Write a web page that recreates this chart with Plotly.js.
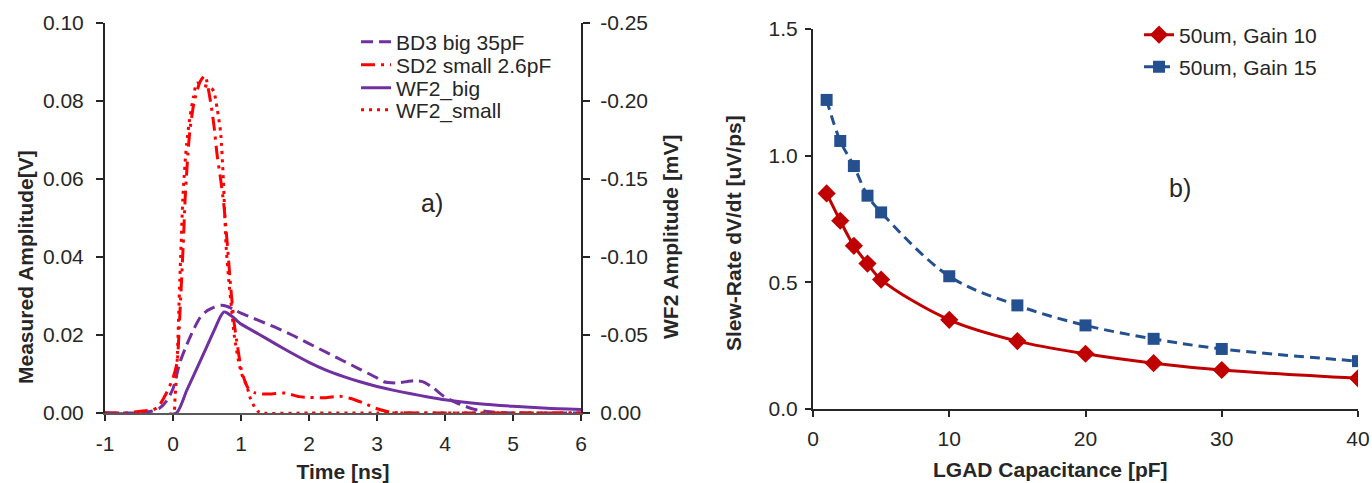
<!DOCTYPE html>
<html>
<head>
<meta charset="utf-8">
<script src="https://cdn.plot.ly/plotly-3.0.1.min.js"></script>
<style>
  html, body { margin: 0; padding: 0; background: #ffffff; }
  #chart { width: 1372px; height: 483px; }
</style>
</head>
<body>
<div id="chart"></div>
<script>
// ---------- Panel a) : pulse shapes ----------
// Measured (left axis, V)
const t_BD3 = [-1, -0.6, -0.4, -0.3, -0.2, -0.1, 0, 0.1, 0.2, 0.3, 0.4, 0.5, 0.6, 0.7, 0.8, 0.9, 1.0, 1.25, 1.5, 1.75, 2.0, 2.25, 2.5, 2.75, 3.0, 3.1, 3.3, 3.45, 3.55, 3.68, 3.83, 3.98, 4.17, 4.42, 4.66, 5.0, 5.5, 6.0];
const v_BD3 = [0, 0, 0.0002, 0.0005, 0.0012, 0.003, 0.0062, 0.0129, 0.0174, 0.0213, 0.0245, 0.0262, 0.0271, 0.0276, 0.0273, 0.0265, 0.0256, 0.0238, 0.0220, 0.0200, 0.0178, 0.0156, 0.0134, 0.0112, 0.0090, 0.0080, 0.0077, 0.0081, 0.0083, 0.0080, 0.0064, 0.0043, 0.0026, 0.0010, 0.0003, 0, 0, 0];

const t_SD2 = [-1, -0.7, -0.5, -0.4, -0.3, -0.22, -0.1, 0, 0.06, 0.1, 0.15, 0.18, 0.22, 0.25, 0.31, 0.4, 0.47, 0.55, 0.6, 0.65, 0.7, 0.75, 0.8, 0.85, 0.9, 0.95, 1.0, 1.05, 1.1, 1.2, 1.3, 1.45, 1.65, 1.85, 2.0, 2.24, 2.45, 2.6, 2.8, 3.0, 3.2, 4.0, 5.0, 6.0];
const v_SD2 = [0, 0, 0.0004, 0.0006, 0.0008, 0.0015, 0.005, 0.009, 0.013, 0.025, 0.043, 0.0554, 0.0667, 0.0726, 0.0797, 0.085, 0.0865, 0.080, 0.074, 0.066, 0.060, 0.053, 0.043, 0.032, 0.023, 0.017, 0.0115, 0.0085, 0.0065, 0.0052, 0.0049, 0.0049, 0.0051, 0.0042, 0.0040, 0.0039, 0.0043, 0.0038, 0.0026, 0.0011, 0.0002, 0, 0, 0];

// Simulated WF2 (right axis, mV)
const t_WF2big = [-1, 0.05, 0.2, 0.4, 0.6, 0.7, 0.75, 0.8, 0.9, 1.0, 1.25, 1.5, 1.75, 2.0, 2.25, 2.5, 2.75, 3.0, 3.25, 3.5, 3.75, 4.0, 4.5, 5.0, 5.5, 6.0];
const v_WF2big = [0, 0, -0.0143, -0.0333, -0.0525, -0.062, -0.0648, -0.064, -0.0608, -0.057, -0.0508, -0.0445, -0.0383, -0.0325, -0.0275, -0.0235, -0.020, -0.017, -0.0145, -0.0123, -0.0103, -0.0085, -0.006, -0.0043, -0.003, -0.0023];

const t_WF2small = [-1, 0, 0.03, 0.06, 0.1, 0.15, 0.2, 0.25, 0.3, 0.35, 0.45, 0.55, 0.6, 0.65, 0.7, 0.74, 0.78, 0.82, 0.86, 0.9, 0.96, 1.01, 1.09, 1.13, 1.2, 1.25, 1.3, 2, 3, 4, 5, 6];
const v_WF2small = [0, 0, -0.010, -0.0325, -0.085, -0.1425, -0.1725, -0.19, -0.2025, -0.2115, -0.21, -0.2088, -0.2063, -0.195, -0.18, -0.15, -0.1075, -0.085, -0.0675, -0.05, -0.034, -0.025, -0.0168, -0.0103, -0.0038, -0.001, 0, 0, 0, 0, 0, 0];

const timeTickVals = [-1, 0, 1, 2, 3, 4, 5, 6];
const timeTickText = ['-1', '0', '1', '2', '3', '4', '5', '6'];
const wf2TickVals = [0, -0.05, -0.10, -0.15, -0.20, -0.25];
const wf2TickText = ['0.00', '-0.05', '-0.10', '-0.15', '-0.20', '-0.25'];

// ---------- Panel b) : slew rate ----------
const capacitance = [1, 2, 3, 4, 5, 10, 15, 20, 25, 30, 40];
const slewGain10 = [0.851, 0.743, 0.644, 0.574, 0.511, 0.352, 0.268, 0.218, 0.181, 0.154, 0.121];
const slewGain15 = [1.220, 1.058, 0.959, 0.842, 0.776, 0.524, 0.409, 0.330, 0.277, 0.237, 0.189];

const FONT = '"Liberation Sans", Arial, Helvetica, sans-serif';
const TXT = '#262626';
const PURPLE = '#7030a0';
const RED = '#ff0000';
const DRED = '#c00000';
const BLUE = '#24508f';

const traces = [
  { x: t_BD3, y: v_BD3, xaxis: 'x', yaxis: 'y', type: 'scatter', mode: 'lines',
    name: 'BD3 big 35pF', legend: 'legend',
    line: { color: PURPLE, width: 3, dash: '12px,6px', shape: 'spline', smoothing: 0.6 } },
  { x: t_SD2, y: v_SD2, xaxis: 'x', yaxis: 'y', type: 'scatter', mode: 'lines',
    name: 'SD2 small 2.6pF', legend: 'legend3',
    line: { color: RED, width: 3, dash: '14px,6px,3px,6px', shape: 'spline', smoothing: 0.6 } },
  { x: t_WF2big, y: v_WF2big, xaxis: 'x', yaxis: 'y2', type: 'scatter', mode: 'lines',
    name: 'WF2_big', legend: 'legend4',
    line: { color: PURPLE, width: 3, shape: 'spline', smoothing: 0.5 } },
  { x: t_WF2small, y: v_WF2small, xaxis: 'x', yaxis: 'y2', type: 'scatter', mode: 'lines',
    name: 'WF2_small', legend: 'legend5',
    line: { color: RED, width: 3, dash: '3px,5px', shape: 'spline', smoothing: 0.6 } },
  { x: capacitance, y: slewGain10, xaxis: 'x2', yaxis: 'y3', type: 'scatter', mode: 'lines+markers',
    name: '50um, Gain 10', legend: 'legend2',
    line: { color: DRED, width: 3, shape: 'spline', smoothing: 1 },
    marker: { symbol: 'diamond', size: 14, color: DRED } },
  { x: capacitance, y: slewGain15, xaxis: 'x2', yaxis: 'y3', type: 'scatter', mode: 'lines+markers',
    name: '50um, Gain 15', legend: 'legend6',
    line: { color: BLUE, width: 3, dash: '10px,6px', shape: 'spline', smoothing: 1 },
    marker: { symbol: 'square', size: 12, color: BLUE } }
];

const tickFont = { family: FONT, size: 21, color: TXT };
const titleFont = { family: FONT, size: 21, color: TXT, weight: 'bold' };

function leg(xp, yp, size) {
  return {
    x: xp, y: yp, xanchor: 'left', yanchor: 'middle',
    bgcolor: 'rgba(0,0,0,0)', borderwidth: 0, itemwidth: 30,
    font: { family: FONT, size: size, color: TXT }
  };
}

const layout = {
  width: 1372, height: 483,
  margin: { l: 0, r: 0, t: 0, b: 0 },
  paper_bgcolor: '#ffffff', plot_bgcolor: 'rgba(0,0,0,0)',
  font: { family: FONT, color: TXT },
  xaxis: {
    domain: [0.07653, 0.42347], anchor: 'y',
    range: [-1, 6], tickmode: 'array', tickvals: timeTickVals, ticktext: timeTickText,
    showgrid: false, zeroline: false, showline: true, linecolor: '#595959', linewidth: 2,
    ticks: 'outside', ticklen: 6, tickwidth: 2, tickcolor: '#262626',
    tickfont: tickFont, ticklabelstandoff: 5,
    title: { text: 'Time [ns]', font: titleFont, standoff: 12 }
  },
  yaxis: {
    domain: [0.14493, 0.95238], anchor: 'x',
    range: [0, 0.10], dtick: 0.02, tickformat: '.2f',
    showgrid: false, zeroline: false, showline: true, linecolor: '#262626', linewidth: 2,
    ticks: 'outside', ticklen: 7, tickwidth: 2, tickcolor: '#262626',
    tickfont: tickFont, ticklabelstandoff: 8
  },
  yaxis2: {
    overlaying: 'y', side: 'right', anchor: 'x',
    range: [0, -0.25], tickmode: 'array', tickvals: wf2TickVals, ticktext: wf2TickText,
    showgrid: false, zeroline: false, showline: true, linecolor: '#262626', linewidth: 2,
    ticks: 'outside', ticklen: 7, tickwidth: 2, tickcolor: '#262626',
    tickfont: tickFont, ticklabelstandoff: 6
  },
  xaxis2: {
    domain: [0.59257, 0.98980], anchor: 'y3',
    range: [0, 40], dtick: 10,
    showgrid: false, zeroline: false, showline: true, linecolor: '#262626', linewidth: 2,
    ticks: 'outside', ticklen: 6, tickwidth: 2, tickcolor: '#262626',
    tickfont: tickFont, ticklabelstandoff: 4
  },
  yaxis3: {
    domain: [0.15321, 0.93996], anchor: 'x2',
    range: [0, 1.5], dtick: 0.5, tickformat: '.1f',
    showgrid: false, zeroline: false, showline: true, linecolor: '#262626', linewidth: 2,
    ticks: 'outside', ticklen: 6, tickwidth: 2, tickcolor: '#262626',
    tickfont: tickFont, ticklabelstandoff: 3
  },
  showlegend: true,
  legend:  leg(0.2595, 0.9130, 21),
  legend3: leg(0.2595, 0.8654, 21),
  legend4: leg(0.2595, 0.8178, 21),
  legend5: leg(0.2595, 0.7723, 21),
  legend2: leg(0.8302, 0.9275, 21),
  legend6: leg(0.8302, 0.8613, 21),
  annotations: [
    { text: 'Measured Amplitude[V]', xref: 'paper', yref: 'paper', x: 0.01822, y: 0.4472,
      textangle: -90, showarrow: false, xanchor: 'center', yanchor: 'middle', font: titleFont },
    { text: 'WF2 Amplitude [mV]', xref: 'paper', yref: 'paper', x: 0.48907, y: 0.50932,
      textangle: -90, showarrow: false, xanchor: 'center', yanchor: 'middle', font: titleFont },
    { text: 'Slew-Rate dV/dt [uV/ps]', xref: 'paper', yref: 'paper', x: 0.53499, y: 0.5176,
      textangle: -90, showarrow: false, xanchor: 'center', yanchor: 'middle', font: titleFont },
    { text: 'LGAD Capacitance [pF]', xref: 'paper', yref: 'paper', x: 0.76603, y: 0.02692,
      showarrow: false, xanchor: 'center', yanchor: 'middle', font: titleFont },
    { text: 'a)', xref: 'x', yref: 'y', x: 3.81, y: 0.0538, showarrow: false,
      font: { family: FONT, size: 25, color: TXT } },
    { text: 'b)', xref: 'x2', yref: 'y3', x: 26.9, y: 0.872, showarrow: false,
      font: { family: FONT, size: 25, color: TXT } }
  ]
};

Plotly.newPlot('chart', traces, layout, { staticPlot: true, displayModeBar: false });
</script>
</body>
</html>
